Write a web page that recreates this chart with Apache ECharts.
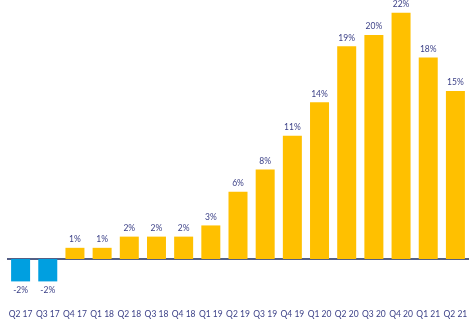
<!DOCTYPE html>
<html>
<head>
<meta charset="utf-8">
<script src="https://cdn.jsdelivr.net/npm/echarts@6/dist/echarts.min.js"></script>
<style>
  html, body { margin: 0; padding: 0; background: #ffffff; }
  #chart { width: 473px; height: 325px; }
</style>
</head>
<body>
<div id="chart"></div>
<script>
// Quarterly growth, year-over-year (%)
const quarters = ['Q2 17', 'Q3 17', 'Q4 17', 'Q1 18', 'Q2 18', 'Q3 18', 'Q4 18', 'Q1 19', 'Q2 19',
                  'Q3 19', 'Q4 19', 'Q1 20', 'Q2 20', 'Q3 20', 'Q4 20', 'Q1 21', 'Q2 21'];
const growth = [-2, -2, 1, 1, 2, 2, 2, 3, 6, 8, 11, 14, 19, 20, 22, 18, 15];

const POS_COLOR = '#FFC000';
const NEG_COLOR = '#009FE0';
const TEXT_COLOR = '#3a3f86';
const FONT = 'Lato';

const items = growth.map(v => ({
  value: v,
  itemStyle: { color: v < 0 ? NEG_COLOR : POS_COLOR },
  label: { position: v < 0 ? 'bottom' : 'top' }
}));

const chart = echarts.init(document.getElementById('chart'), null, { renderer: 'canvas' });
chart.setOption({
  animation: false,
  grid: { left: 7, right: 4, top: 12.7, bottom: 21.2 },
  xAxis: {
    type: 'category',
    data: quarters,
    axisLine: { show: false, onZero: false },
    axisTick: { show: false },
    axisLabel: {
      color: TEXT_COLOR,
      fontFamily: FONT,
      fontSize: 8.5,
      margin: 6,
      interval: 0
    }
  },
  yAxis: {
    type: 'value',
    min: -4,
    max: 22,
    show: false,
    splitLine: { show: false }
  },
  series: [{
    type: 'bar',
    data: items,
    barWidth: 19,
    label: {
      show: true,
      distance: 4,
      color: TEXT_COLOR,
      fontFamily: FONT,
      fontSize: 8.5,
      formatter: p => p.value + '%'
    },
    markLine: {
      silent: true,
      symbol: 'none',
      label: { show: false },
      lineStyle: { color: '#1b2a5c', width: 1.5, type: 'solid' },
      data: [{ yAxis: 0 }],
      z: 1
    }
  }]
});
</script>
</body>
</html>
